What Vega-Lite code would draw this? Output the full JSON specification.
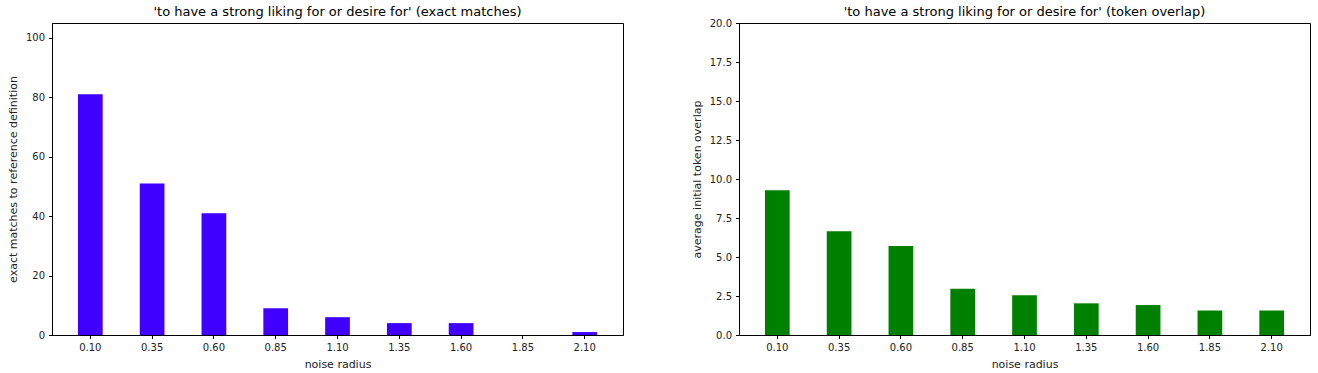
{
  "$schema": "https://vega.github.io/schema/vega-lite/v6.json",
  "padding": {"left": 6, "top": 5, "right": 9, "bottom": 3},
  "background": "white",
  "datasets": {
    "d": [
      {"radius": "0.10", "exact": 81, "overlap": 9.28},
      {"radius": "0.35", "exact": 51, "overlap": 6.65},
      {"radius": "0.60", "exact": 41, "overlap": 5.7},
      {"radius": "0.85", "exact": 9, "overlap": 2.97},
      {"radius": "1.10", "exact": 6, "overlap": 2.55},
      {"radius": "1.35", "exact": 4, "overlap": 2.03},
      {"radius": "1.60", "exact": 4, "overlap": 1.92},
      {"radius": "1.85", "exact": 0, "overlap": 1.57},
      {"radius": "2.10", "exact": 1, "overlap": 1.57}
    ]
  },
  "config": {
    "font": "DejaVu Sans",
    "view": {"stroke": "black", "strokeWidth": 1},
    "axis": {
      "domainColor": "black", "tickColor": "black", "labelColor": "#222222", "titleColor": "#222222",
      "labelFontSize": 10, "titleFontSize": 11, "titleFontWeight": "normal",
      "labelFont": "DejaVu Sans", "titleFont": "DejaVu Sans",
      "grid": false, "tickSize": 3.5, "labelPadding": 4, "domainWidth": 1, "tickWidth": 1
    },
    "title": {"fontSize": 13, "fontWeight": "normal", "font": "DejaVu Sans", "color": "black"},
    "concat": {"spacing": 66}
  },
  "hconcat": [
    {
      "width": 571, "height": 312,
      "data": {"name": "d"},
      "title": {"text": "'to have a strong liking for or desire for' (exact matches)", "offset": 4},
      "mark": {"type": "bar", "color": "#4000ff"},
      "encoding": {
        "x": {"field": "radius", "type": "ordinal", "sort": null,
              "scale": {"paddingInner": 0.6, "paddingOuter": 0.42},
              "axis": {"title": "noise radius", "labelAngle": 0, "titlePadding": 6}},
        "y": {"field": "exact", "type": "quantitative",
              "scale": {"domain": [0, 105], "nice": false},
              "axis": {"title": "exact matches to reference definition", "values": [0, 20, 40, 60, 80, 100], "titlePadding": 7}}
      }
    },
    {
      "width": 571, "height": 312,
      "data": {"name": "d"},
      "title": {"text": "'to have a strong liking for or desire for' (token overlap)", "offset": -1},
      "mark": {"type": "bar", "color": "#008000"},
      "encoding": {
        "x": {"field": "radius", "type": "ordinal", "sort": null,
              "scale": {"paddingInner": 0.6, "paddingOuter": 0.42},
              "axis": {"title": "noise radius", "labelAngle": 0, "titlePadding": 6}},
        "y": {"field": "overlap", "type": "quantitative",
              "scale": {"domain": [0, 20], "nice": false},
              "axis": {"title": "average initial token overlap", "values": [0, 2.5, 5, 7.5, 10, 12.5, 15, 17.5, 20], "format": ".1f", "titlePadding": 7}}
      }
    }
  ]
}
